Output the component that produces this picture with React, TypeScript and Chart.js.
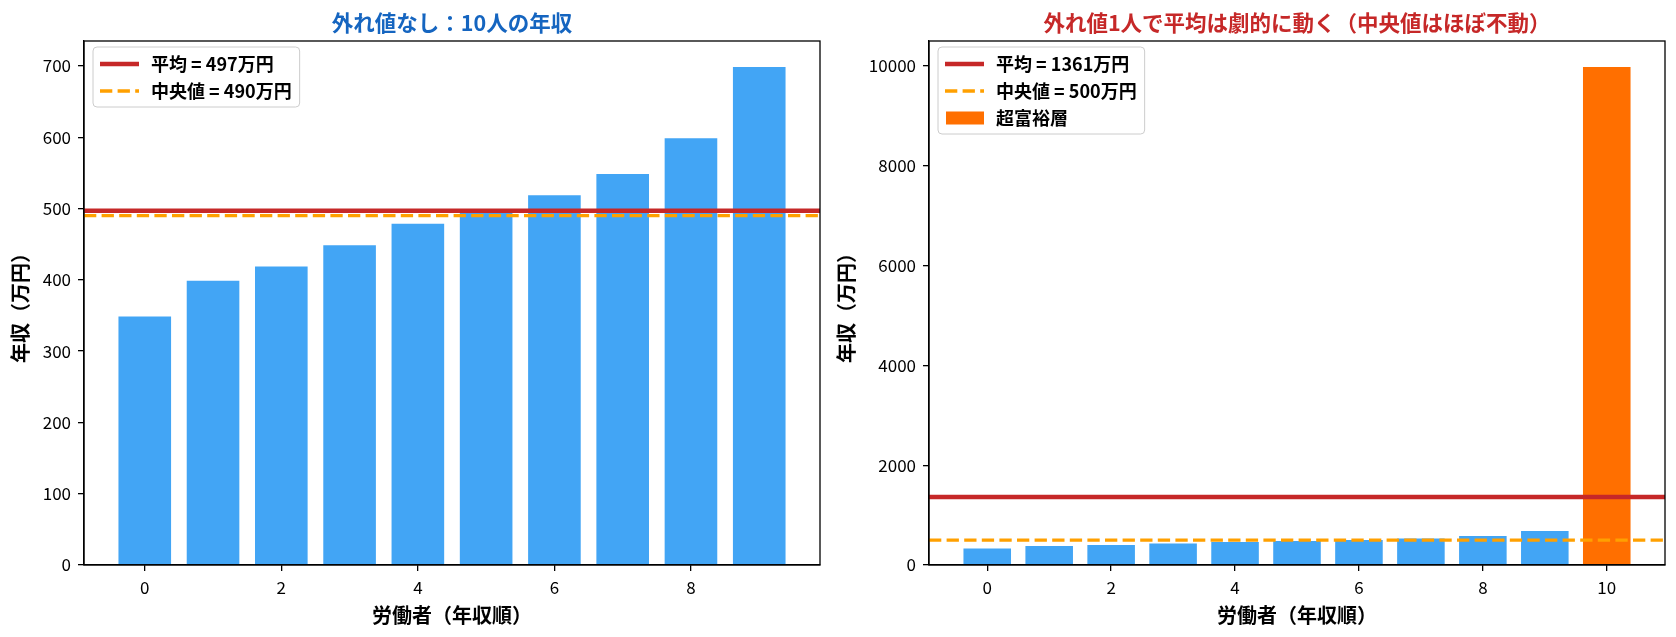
import { useEffect, useRef } from 'react';
import { Chart, registerables } from 'chart.js';

Chart.register(...registerables);

// 労働者10人の年収（万円、年収順）
const incomes = [350, 400, 420, 450, 480, 500, 520, 550, 600, 700];
// 外れ値（超富裕層）1人
const outlierIncome = 10000;
const outlierLabel = '超富裕層';

const leftXTicks = [0, 2, 4, 6, 8];
const leftYTicks = [0, 100, 200, 300, 400, 500, 600, 700];
const rightXTicks = [0, 2, 4, 6, 8, 10];
const rightYTicks = [0, 2000, 4000, 6000, 8000, 10000];

const FONT = '"Noto Sans CJK JP", "Noto Sans", sans-serif';
const BLUE = '#42A5F5';
const ORANGE_BAR = '#FF6F00';
const RED = '#C62828';
const ORANGE = '#FFA000';
const DASH = [12.3, 5.3];

const mean = (v: number[]) => v.reduce((a, b) => a + b, 0) / v.length;
const median = (v: number[]) => {
  const s = [...v].sort((a, b) => a - b);
  const m = Math.floor(s.length / 2);
  return s.length % 2 ? s[m] : (s[m - 1] + s[m]) / 2;
};

type LegendItem = { label: string; kind: 'line' | 'dash' | 'patch'; color: string };

// matplotlib-like frame, legend box and title, drawn over the plot
function overlay(title: string, titleColor: string, items: LegendItem[]) {
  return {
    id: 'mplOverlay',
    afterDatasetsDraw(chart: Chart) {
      const { ctx, chartArea: a } = chart;
      ctx.save();
      ctx.strokeStyle = '#000';
      ctx.lineWidth = 1.3;
      ctx.strokeRect(a.left, a.top, a.right - a.left, a.bottom - a.top);

      ctx.font = `bold 18px ${FONT}`;
      const textW = Math.max(...items.map((it) => ctx.measureText(it.label).width));
      const bx = a.left + 9;
      const by = a.top + 6;
      const bw = 58 + textW + 8;
      const bh = 6 + 27 * items.length;
      ctx.beginPath();
      ctx.roundRect(bx, by, bw, bh, 4);
      ctx.fillStyle = 'rgba(255,255,255,0.8)';
      ctx.fill();
      ctx.strokeStyle = '#cccccc';
      ctx.lineWidth = 1;
      ctx.stroke();
      items.forEach((it, i) => {
        const cy = by + 17 + 27 * i;
        if (it.kind === 'patch') {
          ctx.fillStyle = it.color;
          ctx.fillRect(bx + 8, cy - 6.5, 38, 13);
        } else {
          ctx.beginPath();
          ctx.setLineDash(it.kind === 'dash' ? DASH : []);
          ctx.strokeStyle = it.color;
          ctx.lineWidth = it.kind === 'dash' ? 3.3 : 4.5;
          ctx.moveTo(bx + 7, cy);
          ctx.lineTo(bx + 46, cy);
          ctx.stroke();
          ctx.setLineDash([]);
        }
        ctx.fillStyle = '#000';
        ctx.textAlign = 'left';
        ctx.textBaseline = 'middle';
        ctx.fillText(it.label, bx + 58, cy);
      });

      ctx.font = `bold 21.5px ${FONT}`;
      ctx.fillStyle = titleColor;
      ctx.textAlign = 'center';
      ctx.textBaseline = 'alphabetic';
      ctx.fillText(title, (a.left + a.right) / 2, a.top - 10);
      ctx.restore();
    },
  };
}

interface PanelProps {
  values: number[];
  colors: string[];
  xTicks: number[];
  yTicks: number[];
  title: string;
  titleColor: string;
  extraLegend?: LegendItem;
  yAxisWidth: number;
  padRight: number;
}

function Panel({ values, colors, xTicks, yTicks, title, titleColor, extraLegend, yAxisWidth, padRight }: PanelProps) {
  const canvasRef = useRef<HTMLCanvasElement>(null);

  useEffect(() => {
    if (!canvasRef.current) return;
    const n = values.length;
    const margin = 0.05 * (n - 1 + 0.8);
    const xMin = -0.4 - margin;
    const xMax = n - 1 + 0.4 + margin;
    const yMax = Math.max(...values) * 1.05;
    const avg = mean(values);
    const med = median(values);

    const legend: LegendItem[] = [
      { label: `平均 = ${Math.round(avg)}万円`, kind: 'line', color: RED },
      { label: `中央値 = ${Math.round(med)}万円`, kind: 'dash', color: ORANGE },
    ];
    if (extraLegend) legend.push(extraLegend);

    const tickFont = { family: FONT, size: 17 };
    const titleFont = { family: FONT, size: 20, weight: 'bold' as const };
    const plain = (v: any) => String(v);

    const chart = new Chart(canvasRef.current, {
      type: 'bar',
      data: {
        datasets: [
          {
            type: 'line',
            data: [{ x: xMin, y: avg }, { x: xMax, y: avg }],
            borderColor: RED,
            borderWidth: 4.5,
            pointRadius: 0,
            order: 0,
          },
          {
            type: 'line',
            data: [{ x: xMin, y: med }, { x: xMax, y: med }],
            borderColor: ORANGE,
            borderWidth: 3.3,
            borderDash: DASH,
            pointRadius: 0,
            order: 0,
          },
          {
            type: 'bar',
            data: values.map((v, i) => ({ x: i, y: v })),
            backgroundColor: colors,
            borderColor: '#ffffff',
            borderWidth: 1,
            barPercentage: 0.8,
            categoryPercentage: 1,
            order: 1,
          },
        ] as any,
      },
      options: {
        responsive: true,
        maintainAspectRatio: false,
        animation: false,
        events: [],
        layout: { padding: { top: 41, right: padRight, bottom: 0, left: 0 } },
        plugins: { legend: { display: false }, tooltip: { enabled: false } },
        scales: {
          x: {
            type: 'linear',
            min: xMin,
            max: xMax,
            offset: false,
            afterBuildTicks: (s: any) => { s.ticks = xTicks.map((v) => ({ value: v })); },
            afterFit: (s: any) => { s.height = 72; },
            grid: { offset: false, drawOnChartArea: false, tickLength: 6, color: '#000', lineWidth: 1.3 },
            border: { display: true, color: '#000', width: 1.3 },
            ticks: { padding: 6, font: tickFont, color: '#000', maxRotation: 0, autoSkip: false, callback: plain },
            title: { display: true, text: '労働者（年収順）', font: titleFont, color: '#000', padding: { top: 0, bottom: 10 } },
          },
          y: {
            type: 'linear',
            min: 0,
            max: yMax,
            afterBuildTicks: (s: any) => { s.ticks = yTicks.map((v) => ({ value: v })); },
            afterFit: (s: any) => { s.width = yAxisWidth; },
            grid: { drawOnChartArea: false, tickLength: 6, color: '#000', lineWidth: 1.3 },
            border: { display: true, color: '#000', width: 1.3 },
            ticks: { padding: 7, font: tickFont, color: '#000', autoSkip: false, callback: plain },
            title: { display: true, text: '年収（万円）', font: titleFont, color: '#000', padding: { top: 8, bottom: 0 } },
          },
        },
      },
      plugins: [overlay(title, titleColor, legend)],
    });

    return () => { chart.destroy(); };
  }, [values, colors, xTicks, yTicks, title, titleColor, extraLegend, yAxisWidth, padRight]);

  return <canvas ref={canvasRef} />;
}

const withOutlier = [...incomes, outlierIncome];
const leftColors = incomes.map(() => BLUE);
const rightColors = withOutlier.map((_, i) => (i < incomes.length ? BLUE : ORANGE_BAR));
const outlierLegend: LegendItem = { label: outlierLabel, kind: 'patch', color: ORANGE_BAR };

export default function App() {
  return (
    <div style={{ position: 'absolute', left: 0, top: 0, width: 1676, height: 637, background: '#fff' }}>
      <div style={{ position: 'absolute', left: 0, top: 0, width: 826, height: 637 }}>
        <Panel
          values={incomes}
          colors={leftColors}
          xTicks={leftXTicks}
          yTicks={leftYTicks}
          title="外れ値なし：10人の年収"
          titleColor="#1565C0"
          yAxisWidth={84}
          padRight={6}
        />
      </div>
      <div style={{ position: 'absolute', left: 826, top: 0, width: 850, height: 637 }}>
        <Panel
          values={withOutlier}
          colors={rightColors}
          xTicks={rightXTicks}
          yTicks={rightYTicks}
          title="外れ値1人で平均は劇的に動く（中央値はほぼ不動）"
          titleColor="#C62828"
          extraLegend={outlierLegend}
          yAxisWidth={103}
          padRight={11}
        />
      </div>
    </div>
  );
}
